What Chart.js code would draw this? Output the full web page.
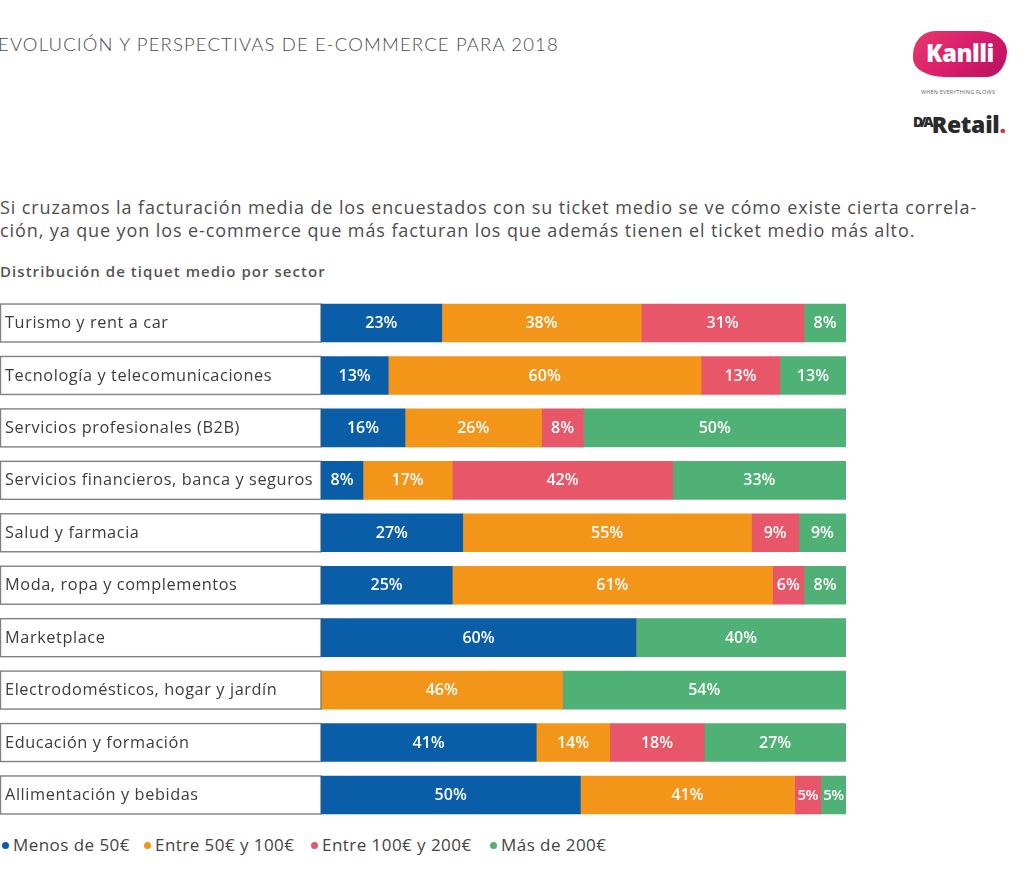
<!DOCTYPE html>
<html>
<head>
<meta charset="utf-8">
<script src="https://cdn.jsdelivr.net/npm/chart.js@4.4.1/dist/chart.umd.min.js"></script>
<style>
  html, body { margin:0; padding:0; background:#fff; width:1024px; height:880px; overflow:hidden; position:relative; font-family: "Open Sans", Lato, sans-serif; }
  #title { position:absolute; left:-2px; top:33px; font-family:Lato, sans-serif; font-size:18.5px; font-weight:300; letter-spacing:1.15px; color:#4a4a4a; white-space:nowrap; }
  #intro { position:absolute; left:0; top:196px; font-size:18px; line-height:22.5px; color:#4d4d4d; white-space:nowrap; font-weight:400; letter-spacing:0.9px; }
  #sub { position:absolute; left:0; top:261px; font-size:15px; font-weight:600; color:#555; letter-spacing:1.05px; white-space:nowrap; }
  #chartWrap { position:absolute; left:0; top:280px; width:1024px; height:551px; }
  #legend { position:absolute; left:0; top:833px; width:700px; height:24px; font-size:17px; color:#444; white-space:nowrap; letter-spacing:0.45px; }
  #legend span.item { position:absolute; top:0; }
  #legend span.dot { position:absolute; left:-11px; top:9px; width:7px; height:7px; border-radius:50%; }
  #kanlli { position:absolute; left:913px; top:31px; width:94px; height:46px; border-radius:24px 30px 22px 34px / 26px 22px 28px 20px; background:linear-gradient(135deg,#e63a6a,#d81b6b 55%,#b3125f); color:#fff; font-family:"Open Sans", sans-serif; font-weight:800; font-size:24px; text-align:center; line-height:44px; letter-spacing:-0.5px; }
  #flows { position:absolute; left:921px; top:88px; font-size:5.5px; color:#666; letter-spacing:0.2px; white-space:nowrap; }
  #retail { position:absolute; left:913px; top:108px; font-family:"Open Sans", sans-serif; font-size:23px; font-weight:800; color:#2a2a2a; white-space:nowrap; letter-spacing:-0.3px; }
  #retail .dot { color:#e0303a; }
  #retail .da { font-size:14px; font-weight:800; vertical-align:top; position:relative; top:4px; letter-spacing:-3px; margin-right:1px; }
</style>
</head>
<body>
<div id="title">EVOLUCIÓN Y PERSPECTIVAS DE E-COMMERCE PARA 2018</div>
<div id="kanlli">Kanlli</div>
<div id="flows">WHEN EVERYTHING FLOWS</div>
<div id="retail"><span class="da">D/A</span>Retail<span class="dot">.</span></div>
<div id="intro">Si cruzamos la facturación media de los encuestados con su ticket medio se ve cómo existe cierta correla-<br>ción, ya que yon los e-commerce que más facturan los que además tienen el ticket medio más alto.</div>
<div id="sub">Distribución de tiquet medio por sector</div>
<div id="chartWrap"><canvas id="c" width="1024" height="551"></canvas></div>
<div id="legend"></div>
<script>
// Categories (sectors)
const categories = [
  "Turismo y rent a car",
  "Tecnología y telecomunicaciones",
  "Servicios profesionales (B2B)",
  "Servicios financieros, banca y seguros",
  "Salud y farmacia",
  "Moda, ropa y complementos",
  "Marketplace",
  "Electrodomésticos, hogar y jardín",
  "Educación y formación",
  "Allimentación y bebidas"
];
const seriesNames = ["Menos de 50€", "Entre 50€ y 100€", "Entre 100€ y 200€", "Más de 200€"];
const seriesColors = ["#0a5ea8", "#f39519", "#e8566a", "#4fb175"];

// Segment widths (percent of the bar)
const menos50   = [23, 12.8, 16,  8, 27, 25, 60,  0, 41, 49.4];
const entre50   = [38, 59.6, 26, 17, 55, 61,  0, 46, 14, 40.8];
const entre100  = [31, 15,    8, 42,  9,  6,  0,  0, 18, 5];
const mas200    = [ 8, 12.6, 50, 33,  9,  8, 40, 54, 27, 4.8];

// Printed percentage labels on the bars
const menos50Labels  = ["23%","13%","16%","8%","27%","25%","60%","","41%","50%"];
const entre50Labels  = ["38%","60%","26%","17%","55%","61%","","46%","14%","41%"];
const entre100Labels = ["31%","13%","8%","42%","9%","6%","","","18%","5%"];
const mas200Labels   = ["8%","13%","50%","33%","9%","8%","40%","54%","27%","5%"];

const seriesData = [menos50, entre50, entre100, mas200];
const seriesLabels = [menos50Labels, entre50Labels, entre100Labels, mas200Labels];

const boxPlugin = {
  id: 'boxes',
  beforeDatasetsDraw(chart) {
    const ctx = chart.ctx, ys = chart.scales.y;
    ctx.save();
    ctx.strokeStyle = '#808080';
    ctx.lineWidth = 1.4;
    ctx.font = '400 16.3px "Open Sans", Lato, sans-serif';
    ctx.textAlign = 'left';
    ctx.textBaseline = 'middle';
    if ('letterSpacing' in ctx) ctx.letterSpacing = '0.6px';
    chart.data.labels.forEach((c, i) => {
      const y = ys.getPixelForValue(i);
      ctx.strokeRect(0.5, y - 19, chart.chartArea.left - 0.5, 38);
      ctx.fillStyle = '#3c3c3c';
      ctx.fillText(c, 5, y + 0.5);
    });
    ctx.restore();
  },
  afterDatasetsDraw(chart) {
    const ctx = chart.ctx;
    ctx.save();
    ctx.fillStyle = '#fff';
    ctx.textAlign = 'center';
    ctx.textBaseline = 'middle';
    chart.data.datasets.forEach((ds, di) => {
      const meta = chart.getDatasetMeta(di);
      meta.data.forEach((el, i) => {
        const txt = seriesLabels[di][i];
        if (!txt) return;
        const w = Math.abs(el.x - el.base);
        ctx.font = (w < 30 ? '600 15px' : '600 16px') + ' "Open Sans", Lato, sans-serif';
        if ('letterSpacing' in ctx) ctx.letterSpacing = w < 30 ? '-0.6px' : '0px';
        ctx.fillText(txt, (el.x + el.base) / 2, el.y + 0.5);
      });
    });
    ctx.restore();
  }
};

new Chart(document.getElementById('c'), {
  type: 'bar',
  data: {
    labels: categories,
    datasets: seriesNames.map((n, k) => ({
      label: n,
      data: seriesData[k],
      backgroundColor: seriesColors[k],
      borderWidth: 0,
      barThickness: 38,
      categoryPercentage: 1
    }))
  },
  options: {
    indexAxis: 'y',
    responsive: false,
    animation: false,
    layout: { padding: { left: 5, right: 178, top: 16.8, bottom: 9.8 } },
    plugins: { legend: { display: false }, tooltip: { enabled: false } },
    scales: {
      x: { stacked: true, min: 0, max: 100, display: false },
      y: {
        stacked: true,
        grid: { display: false, drawTicks: false },
        border: { display: false },
        ticks: { display: false },
        afterFit(scale) { scale.width = 316; }
      }
    }
  },
  plugins: [boxPlugin]
});

const legendX = [13, 155, 322, 501];
const leg = document.getElementById('legend');
seriesNames.forEach((n, k) => {
  const s = document.createElement('span');
  s.className = 'item';
  s.style.left = legendX[k] + 'px';
  s.innerHTML = '<span class="dot" style="background:' + seriesColors[k] + '"></span>' + n;
  leg.appendChild(s);
});
</script>
</body>
</html>
